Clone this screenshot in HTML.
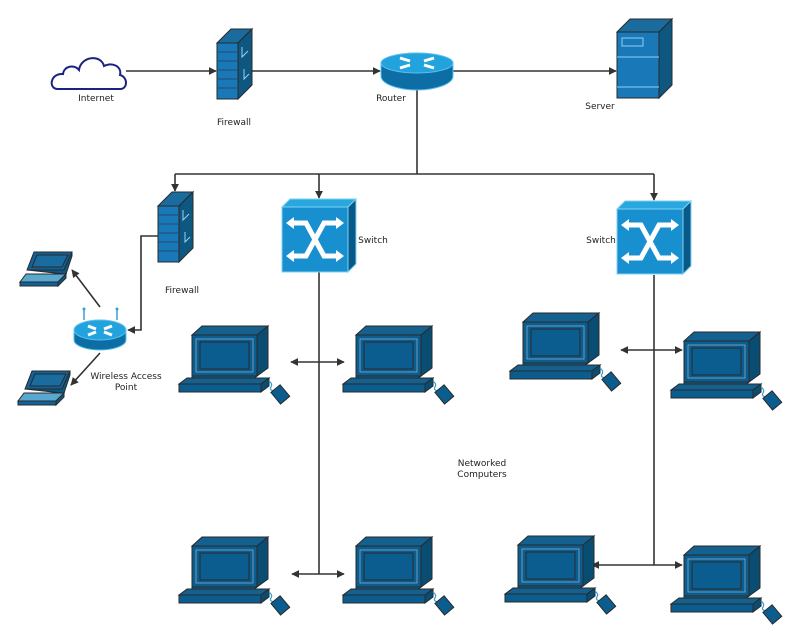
<!DOCTYPE html>
<html><head><meta charset="utf-8"><style>
body{margin:0;background:#fff}
text{font-family:"DejaVu Sans","Liberation Sans",sans-serif;font-size:9px;fill:#222}
</style></head><body>
<svg width="800" height="639" viewBox="0 0 800 639" xmlns="http://www.w3.org/2000/svg">
<defs>
<marker id="a" viewBox="0 0 10 10" refX="9" refY="5" markerWidth="5" markerHeight="5" orient="auto-start-reverse"><path d="M0,0L10,5L0,10z" fill="#333"/></marker>
<g id="pc" stroke="#2a2a2a" stroke-width="1">
<polygon points="13,9 23,0 89,0 78,9" fill="#14608f"/>
<polygon points="78,9 89,0 89,42 78,50" fill="#0a4d73"/>
<rect x="13" y="9" width="65" height="41" fill="#0c5d8f"/>
<rect x="17" y="13" width="57" height="33" fill="none" stroke="#8fb8d0" stroke-width="0.7"/>
<rect x="21" y="16" width="49" height="27" fill="#0c5d8f" stroke="#2a2a2a"/>
<polygon points="13,50 78,50 74,53 13,53" fill="#14608f"/>
<polygon points="0,58 8,52 90,52 82,58" fill="#14608f"/>
<polygon points="82,58 90,52 90,60 82,66" fill="#0a4d73"/>
<rect x="0" y="58" width="82" height="8" fill="#0c5d8f"/>
<path d="M90,55 q4,3 2,6 q-2,3 3,4" fill="none" stroke="#3aa0d0" stroke-width="1.2"/>
<rect x="95" y="61" width="12" height="15" fill="#0c5d8f" transform="rotate(-40 101 68)"/>
</g>
<g id="lap" stroke="#2a2a2a" stroke-width="1">
<polygon points="14,0 52,0 44,18 7,18" fill="#0f639a"/>
<polygon points="17,3 48,3 42,15 12,15" fill="#1a6c9e"/>
<polygon points="7,18 44,18 52,0 52,4 46,22 44,22" fill="#0d5780"/>
<polygon points="0,30 6,22 46,22 38,30" fill="#5aa7d0"/>
<rect x="0" y="30" width="38" height="4" fill="#0f639a"/>
<polygon points="38,30 46,22 46,26 38,34" fill="#0d5780"/>
</g>
<g id="fw" stroke="#2a2a2a" stroke-width="1">
<polygon points="0,14 14,0 35,0 21,14" fill="#1a6c9e"/>
<polygon points="21,14 35,0 35,56 21,70" fill="#0d5780"/>
<rect x="0" y="14" width="21" height="56" fill="#1878b8"/>
<path d="M0,23H21M0,32H21M0,41H21M0,50H21M0,59H21" stroke="#2a4a6a"/>
<path d="M25,18v10l6,-6M27,40v10l5,-5" stroke="#9bd0f0" fill="none"/>
</g>
<g id="sw">
<polygon points="0,8 8,0 74,0 66,8" fill="#29a8e0" stroke="#7fd0f5"/>
<polygon points="66,8 74,0 74,65 66,73" fill="#075a88" stroke="#7fd0f5"/>
<rect x="0" y="8" width="66" height="65" fill="#1890d0" stroke="#7fd0f5"/>
<path d="M10,24H24L42,57H56M10,57H24L42,24H56" stroke="#fff" stroke-width="5" fill="none"/>
<path d="M4,24l8,-6v12zM62,24l-8,-6v12zM4,57l8,-6v12zM62,57l-8,-6v12z" fill="#fff"/>
</g>
</defs>

<g stroke="#333" stroke-width="1.6" fill="none">
<line x1="126" y1="71" x2="216" y2="71" marker-end="url(#a)"/>
<line x1="252" y1="71" x2="380" y2="71" marker-end="url(#a)"/>
<line x1="453" y1="71" x2="616" y2="71" marker-end="url(#a)"/>
<path d="M417,90V174"/>
<path d="M175,174H654"/>
<line x1="175" y1="174" x2="175" y2="191" marker-end="url(#a)"/>
<line x1="319" y1="174" x2="319" y2="198" marker-end="url(#a)"/>
<line x1="654" y1="174" x2="654" y2="200" marker-end="url(#a)"/>
<path d="M158,236H141V330H128" marker-end="url(#a)"/>
<line x1="100" y1="307" x2="72" y2="270" marker-end="url(#a)"/>
<line x1="100" y1="353" x2="71" y2="385" marker-end="url(#a)"/>
<path d="M319,272V574"/>
<line x1="291" y1="362" x2="344" y2="362" marker-start="url(#a)" marker-end="url(#a)"/>
<line x1="292" y1="574" x2="344" y2="574" marker-start="url(#a)" marker-end="url(#a)"/>
<path d="M654,275V565"/>
<line x1="621" y1="350" x2="682" y2="350" marker-start="url(#a)" marker-end="url(#a)"/>
<line x1="592" y1="565" x2="682" y2="565" marker-start="url(#a)" marker-end="url(#a)"/>
</g>

<path d="M58,89 C48,89 50,73 63,74 C64,66 74,64 79,70 C81,56 101,54 104,66 C112,62 122,66 120,75 C128,77 128,89 120,89 Z" fill="#fff" stroke="#1a237e" stroke-width="2"/>
<text x="96" y="101" text-anchor="middle">Internet</text>

<use href="#fw" x="217" y="29"/>
<text x="234" y="125" text-anchor="middle">Firewall</text>

<g>
<path d="M381,63V76A36,14 0 0 0 453,76V63" fill="#0d6ea5" stroke="#5cc0ee"/>
<ellipse cx="417" cy="63" rx="36" ry="10" fill="#23a3dd" stroke="#5cc0ee"/>
<path d="M400,58l10,3M434,58l-10,3M400,68l10,-3M434,68l-10,-3" stroke="#fff" stroke-width="3"/>
</g>
<text x="391" y="101" text-anchor="middle">Router</text>

<g stroke="#2a2a2a">
<polygon points="617,32 630,19 672,19 659,32" fill="#1a6c9e"/>
<polygon points="659,32 672,19 672,85 659,98" fill="#0d5780"/>
<rect x="617" y="32" width="42" height="66" fill="#1878b8"/>
<rect x="622" y="38" width="21" height="8" fill="none" stroke="#8fd0f5"/>
<path d="M617,57H659M617,87H659" stroke="#8fd0f5"/>
</g>
<text x="600" y="109" text-anchor="middle">Server</text>

<use href="#fw" x="158" y="192"/>
<text x="182" y="293" text-anchor="middle">Firewall</text>

<use href="#sw" x="282" y="199"/>
<text x="373" y="243" text-anchor="middle">Switch</text>
<use href="#sw" x="617" y="201"/>
<text x="601" y="243" text-anchor="middle">Switch</text>

<g>
<path d="M84,320V309M117,320V309" stroke="#3aa0d0" stroke-width="1.5"/>
<circle cx="84" cy="309" r="1.5" fill="#3aa0d0"/><circle cx="117" cy="309" r="1.5" fill="#3aa0d0"/>
<path d="M74,330V340A26,10 0 0 0 126,340V330" fill="#0d6ea5" stroke="#5cc0ee"/>
<ellipse cx="100" cy="330" rx="26" ry="10" fill="#23a3dd" stroke="#5cc0ee"/>
<path d="M88,326l8,3M112,326l-8,3M88,335l8,-3M112,335l-8,-3" stroke="#fff" stroke-width="3"/>
</g>
<text x="126" y="379" text-anchor="middle">Wireless Access</text>
<text x="126" y="390" text-anchor="middle">Point</text>

<use href="#lap" x="20" y="252"/>
<use href="#lap" x="18" y="371"/>

<use href="#pc" x="179" y="326"/>
<use href="#pc" x="343" y="326"/>
<use href="#pc" x="510" y="313"/>
<use href="#pc" x="671" y="332"/>
<use href="#pc" x="179" y="537"/>
<use href="#pc" x="343" y="537"/>
<use href="#pc" x="505" y="536"/>
<use href="#pc" x="671" y="546"/>

<text x="482" y="466" text-anchor="middle">Networked</text>
<text x="482" y="477" text-anchor="middle">Computers</text>
</svg>
</body></html>
